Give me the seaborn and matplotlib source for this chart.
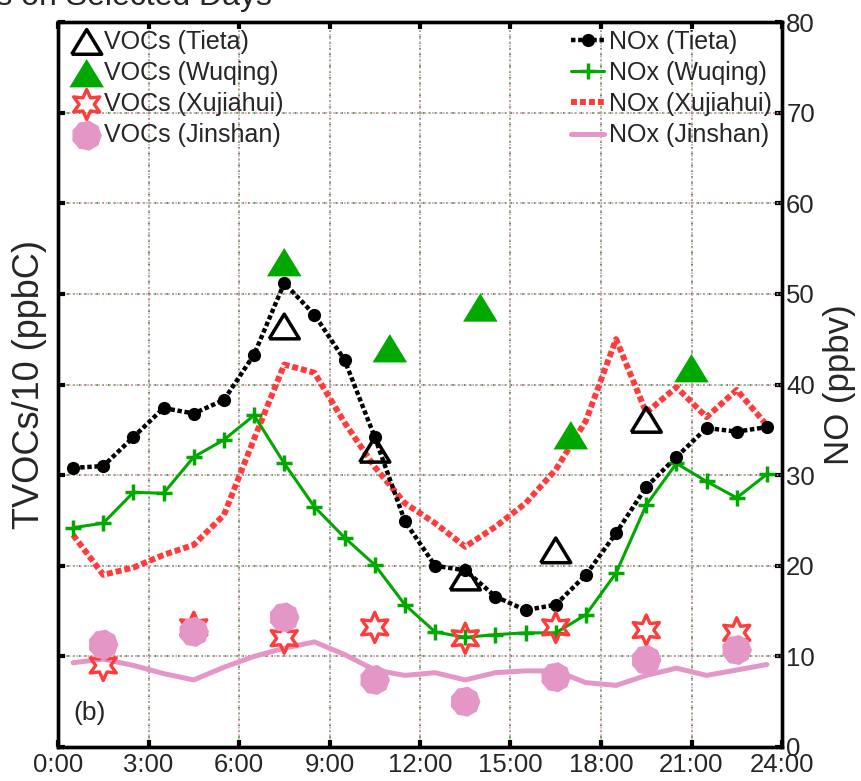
import numpy as np
import pandas as pd
import matplotlib
matplotlib.use("Agg")
import matplotlib.pyplot as plt
from matplotlib.path import Path
import seaborn as sns

# ---- data ----
hours = [0.5, 1.5, 2.5, 3.5, 4.5, 5.5, 6.5, 7.5, 8.5, 9.5, 10.5, 11.5,
         12.5, 13.5, 14.5, 15.5, 16.5, 17.5, 18.5, 19.5, 20.5, 21.5, 22.5, 23.5]

nox_tieta = [30.8, 31.0, 34.2, 37.4, 36.8, 38.3, 43.3, 51.2, 47.7, 42.7, 34.2, 24.9,
             20.0, 19.5, 16.6, 15.1, 15.7, 19.0, 23.6, 28.7, 32.0, 35.2, 34.8, 35.3]
nox_wuqing = [24.2, 24.7, 28.1, 28.0, 32.0, 33.9, 36.6, 31.3, 26.5, 23.1, 20.1, 15.7,
              12.7, 12.1, 12.4, 12.6, 12.6, 14.6, 19.2, 26.7, 31.3, 29.3, 27.5, 30.1]
nox_xujiahui = [23.4, 19.0, 19.8, 21.2, 22.3, 25.6, 34.0, 42.2, 41.3, 35.8, 30.9, 26.9,
                24.7, 22.1, 24.3, 26.9, 30.6, 36.0, 45.0, 36.9, 39.7, 36.4, 39.4, 35.5]
nox_jinshan = [9.3, 9.7, 9.0, 8.1, 7.4, 8.8, 10.0, 10.9, 11.6, 10.2, 8.5, 7.9,
               8.2, 7.4, 8.2, 8.4, 8.4, 7.1, 6.8, 7.9, 8.7, 7.9, 8.5, 9.1]

voc_tieta_x = [7.5, 10.5, 13.5, 16.5, 19.5]
voc_tieta = [46.4, 32.8, 18.7, 21.7, 36.1]
voc_wuqing_x = [7.5, 11.0, 14.0, 17.0, 21.0]
voc_wuqing = [53.5, 44.0, 48.5, 34.4, 41.8]
voc_sh_x = [1.5, 4.5, 7.5, 10.5, 13.5, 16.5, 19.5, 22.5]
voc_xujiahui = [9.0, 13.2, 12.0, 13.2, 12.0, 13.2, 12.9, 12.6]
voc_jinshan = [11.3, 12.7, 14.3, 7.4, 5.0, 7.7, 9.6, 10.7]

xticks = [0, 3, 6, 9, 12, 15, 18, 21, 24]
xticklabels = ["0:00", "3:00", "6:00", "9:00", "12:00", "15:00", "18:00", "21:00", "24:00"]
yticks = [0, 10, 20, 30, 40, 50, 60, 70, 80]

BLACK = "#000000"
GREEN = "#00A800"
RED = "#FF3B3B"
PINK = "#E497C7"

nox = pd.DataFrame({"hour": hours, "Tieta": nox_tieta, "Wuqing": nox_wuqing,
                    "Xujiahui": nox_xujiahui, "Jinshan": nox_jinshan})

sns.set_theme(style="white")
plt.rcParams["font.family"] = ["Liberation Sans", "DejaVu Sans"]

fig = plt.figure(figsize=(8.61, 7.81), dpi=100)
ax = fig.add_axes([58 / 861, 1 - 747 / 781, 724 / 861, 725 / 781])
ax2 = ax.twinx()
ax.set_zorder(ax2.get_zorder() + 1)
ax.patch.set_visible(False)

# bumpy disc marker like the reference's Jinshan symbol
ang = np.linspace(0, 2 * np.pi, 91)
rad = 1 - 0.07 * np.abs(np.sin(4.5 * ang))
blob = Path(np.column_stack([rad * np.cos(ang), rad * np.sin(ang)]), closed=True)
tri = [(-1, -0.82), (1, -0.82), (0, 0.82), (-1, -0.82)]

# NOx lines
sns.lineplot(data=nox, x="hour", y="Jinshan", ax=ax, color=PINK, linewidth=3.6,
             label="NOx (Jinshan)", errorbar=None, zorder=3)
sns.lineplot(data=nox, x="hour", y="Xujiahui", ax=ax, color=RED, linewidth=4.3,
             linestyle=(0, (1, 0.5)), label="NOx (Xujiahui)", errorbar=None, zorder=3)
sns.lineplot(data=nox, x="hour", y="Wuqing", ax=ax, color=GREEN, linewidth=2.2,
             marker="+", markersize=11, markeredgewidth=2.5, markeredgecolor=GREEN,
             label="NOx (Wuqing)", errorbar=None, zorder=4)
sns.lineplot(data=nox, x="hour", y="Tieta", ax=ax, color=BLACK, linewidth=3.2,
             linestyle=(0, (1, 0.6)), marker="o", markersize=9.5, markeredgewidth=0,
             markeredgecolor=BLACK, label="NOx (Tieta)", errorbar=None, zorder=4)

# VOC markers
sns.scatterplot(x=voc_sh_x, y=voc_xujiahui, ax=ax, marker=(6, 1, 0), s=470,
                facecolor="none", edgecolor=RED, linewidth=2.4,
                label="VOCs (Xujiahui)", zorder=5)
sns.scatterplot(x=voc_sh_x, y=voc_jinshan, ax=ax, marker=blob, s=480,
                color=PINK, edgecolor="none", linewidth=0,
                label="VOCs (Jinshan)", zorder=6)
sns.scatterplot(x=voc_wuqing_x, y=voc_wuqing, ax=ax, marker=tri, s=620,
                color=GREEN, edgecolor="none", linewidth=0,
                label="VOCs (Wuqing)", zorder=6)
sns.scatterplot(x=voc_tieta_x, y=voc_tieta, ax=ax, marker=tri, s=470,
                facecolor="none", edgecolor=BLACK, linewidth=2.5,
                label="VOCs (Tieta)", zorder=6)

ax.set_xlim(0, 24)
ax.set_ylim(0, 80)
ax2.set_ylim(0, 80)
ax.set_xticks(xticks)
ax.set_xticklabels(xticklabels)
ax.set_yticks(yticks)
ax2.set_yticks(yticks)
ax.set_xlabel("")

# grids: pink dotted drawn over green dotted
ax2.xaxis.set_visible(True)
ax2.set_xticks(xticks)
ax2.tick_params(axis="x", bottom=False, top=False, labelbottom=False, labeltop=False)
ax2.grid(True, axis="both", color=GREEN, linestyle=(1.5, (1, 2.5)), linewidth=1.2)
ax.grid(True, color=PINK, linestyle=(0, (1, 1.2)), linewidth=1.2)

ax.tick_params(axis="both", direction="in", length=5, width=3, color=BLACK,
               top=True, bottom=True, left=True, right=False,
               labelleft=False, labelsize=18.5, pad=4)
ax2.tick_params(axis="y", direction="in", length=5, width=3, color=BLACK,
                right=True, labelright=True, labelsize=18.5, pad=3)
for a in (ax, ax2):
    for sp in a.spines.values():
        sp.set_visible(True)
        sp.set_color(BLACK)
        sp.set_linewidth(2.4)

ax.set_ylabel("TVOCs/10 (ppbC)", fontsize=26, labelpad=8)
ax2.set_ylabel("NO (ppbv)", fontsize=25, labelpad=6)

ax.text(0.021, 0.047, "(b)", transform=ax.transAxes, fontsize=19,
        ha="left", va="center", zorder=7)

# legends
handles, labels = ax.get_legend_handles_labels()
hmap = dict(zip(labels, handles))
left_labels = ["VOCs (Tieta)", "VOCs (Wuqing)", "VOCs (Xujiahui)", "VOCs (Jinshan)"]
right_labels = ["NOx (Tieta)", "NOx (Wuqing)", "NOx (Xujiahui)", "NOx (Jinshan)"]
leg1 = ax.legend([hmap[l] for l in left_labels], left_labels, loc="upper left",
                 bbox_to_anchor=(0.012, 1.0), frameon=False, fontsize=18,
                 handlelength=1.0, handletextpad=0.2, labelspacing=0.29,
                 borderpad=0.3, borderaxespad=0, scatterpoints=1)
ax.add_artist(leg1)
leg2 = ax.legend([hmap[l] for l in right_labels], right_labels, loc="upper right",
                 bbox_to_anchor=(0.997, 1.0), frameon=False, fontsize=18,
                 handlelength=1.35, handletextpad=0.2, labelspacing=0.29,
                 borderpad=0.3, borderaxespad=0)
leg1.set_zorder(10)
leg2.set_zorder(10)

fig.text(272 / 861, 1 - 5 / 781, "Diurnal Profiles on Selected Days",
         ha="right", va="baseline", fontsize=23)

fig.savefig("out.png", dpi=100)
